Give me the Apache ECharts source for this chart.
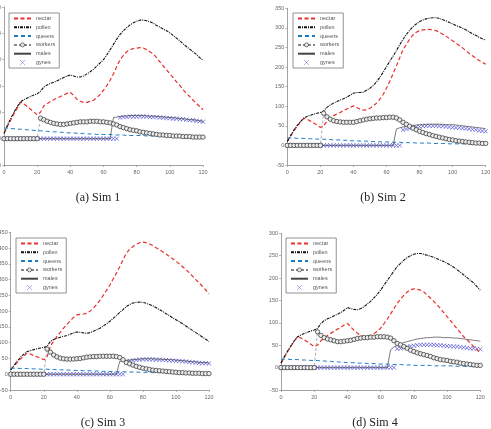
<!DOCTYPE html>
<html>
<head>
<meta charset="utf-8">
<script src="https://cdn.jsdelivr.net/npm/echarts@6.0.0/dist/echarts.min.js"></script>
<style>
  html, body { margin: 0; padding: 0; background: #fff; }
  #chart { width: 491px; height: 429px; }
</style>
</head>
<body>
<div id="chart"></div>
<script>
// days sampled every 2 days
const days = [0,2,4,6,8,10,12,14,16,18,20,22,24,26,28,30,32,34,36,38,40,42,44,46,48,50,52,54,56,58,
  60,62,64,66,68,70,72,74,76,78,80,82,84,86,88,90,92,94,96,98,100,102,104,106,108,110,112,114,116,118,120];
const seriesNames = ['nectar', 'pollen', 'queens', 'workers', 'males', 'gynes'];
const xTicks = { min: 0, max: 120, step: 20 };
const yMax = [250, 350, 450, 300];
const captions = ['(a) Sim 1', '(b) Sim 2', '(c) Sim 3', '(d) Sim 4'];

// Sim 1
const nectarA = [10,23,35,47,58,69,66,61,56,51, 45,50,62,66,71,74,77,80,83,86, 88,82,75,71,69,69,71,73,78,84,
  92,101,111,123,137,150,158,165,169,171, 172,173,172,169,165,161,154,146,138,131, 123,116,108,101,93,86,80,73,67,61, 55];
const pollenA = [10,25,38,50,61,70,74,77,80,83, 85,90,98,102,105,107,110,113,116,119, 121,119,117,117,119,123,127,132,138,144,
  150,159,169,179,189,198,205,211,216,220, 223,225,225,224,222,219,215,212,208,205, 201,196,191,186,180,175,170,165,160,154, 149];
const queensA = [20,20,19,19,18,18,17,17,16,16, 15,15,14,14,13,13,13,12,12,11, 11,11,10,10,10,9,9,9,8,8,
  8,8,8,7,7,7,7,6,6,6, 6,6,6,5,5,5,5,5,5,5, 4,4,4,4,4,4,3,3,3,3, 3];
const workersA = [0,0,0,0,0,0,0,0,0,0, 0,39,36,33,31,29,28,27,27,28, 29,30,31,32,32,32,33,33,33,32,
  32,31,30,28,26,23,21,19,17,16, 15,13,12,11,10,9,8,7,7,6, 6,5,5,5,4,4,4,3,3,3, 3];
const malesA = [0,0,0,0,0,0,0,0,0,0, 0,0,0,0,0,0,0,0,0,0, 0,0,0,0,0,0,0,0,0,0,
  0,0,0,40,41,42,43,43,44,44, 44,44,44,43,43,43,42,42,41,41, 40,40,39,38,38,37,36,36,35,34, 33];
const gynesA = [0,0,0,0,0,0,0,0,0,0, 0,0,0,0,0,0,0,0,0,0, 0,0,0,0,0,0,0,0,0,0,
  0,0,0,0,0,40,41,41,42,42, 42,42,42,42,41,41,41,40,40,39, 39,38,38,37,37,36,35,35,34,33, 32];

// Sim 2
const nectarB = [10,24,37,49,60,69,67,62,57,52, 46,50,62,70,76,80,84,89,93,97, 101,97,92,90,91,95,101,108,118,130,
  146,164,183,203,224,244,258,271,282,289, 293,295,296,296,295,293,289,284,279,273, 267,261,255,249,242,235,229,223,217,212, 207];
const pollenB = [10,25,39,51,61,70,74,77,80,82, 84,88,97,103,108,112,116,119,123,128, 133,135,135,136,141,146,153,162,174,187,
  201,215,228,242,257,271,283,294,303,310, 316,320,323,325,326,326,324,321,318,314, 310,306,303,299,295,290,285,281,276,272, 269];
const queensB = [19,19,19,18,18,18,17,17,17,16, 16,16,15,15,14,14,14,13,13,12, 12,12,11,11,11,10,10,10,9,9,
  9,8,8,8,8,7,7,7,7,6, 6,6,6,6,5,5,5,5,5,4, 4,4,4,4,4,3,3,3,3,3, 3];
const workersB = [0,0,0,0,0,0,0,0,0,0, 0,82,73,67,63,61,60,59,59,59, 59,61,63,65,67,68,69,70,70,71,
  71,72,72,70,65,59,54,49,44,40, 36,33,30,28,25,23,21,19,17,15, 14,12,11,10,9,8,7,6,6,5, 5];
const malesB = [0,0,0,0,0,0,0,0,0,0, 0,0,0,0,0,0,0,0,0,0, 0,0,0,0,0,0,0,0,0,0,
  0,0,0,42,45,47,49,50,51,52, 53,53,54,54,54,54,54,54,53,53, 53,52,51,50,49,48,47,46,45,44, 43];
const gynesB = [0,0,0,0,0,0,0,0,0,0, 0,0,0,0,0,0,0,0,0,0, 0,0,0,0,0,0,0,0,0,0,
  0,0,0,0,0,40,42,44,45,47, 48,49,50,50,50,50,49,49,48,47, 46,45,45,44,43,42,41,40,38,37, 36];

// Sim 3
const nectarC = [14,26,38,49,58,67,64,59,55,52, 46,55,89,105,120,133,146,158,169,180, 188,190,191,193,200,209,221,234,250,266,
  283,302,321,341,363,384,396,405,412,417, 419,417,413,408,401,395,388,381,373,366, 358,350,341,332,322,311,300,290,279,267, 255];
const pollenC = [14,28,42,54,64,72,75,78,81,83, 85,88,104,110,114,117,120,123,127,131, 134,133,131,130,132,136,141,146,153,160,
  168,177,186,196,205,215,221,226,228,229, 228,225,221,217,211,205,199,192,186,179, 173,167,160,153,146,139,132,125,118,111, 104];
const queensC = [19,19,19,18,18,18,17,17,17,16, 16,16,15,15,14,14,14,13,13,12, 12,12,11,11,11,10,10,10,9,9,
  9,8,8,8,8,7,7,7,7,6, 6,6,6,5,5,5,5,5,4,4, 4,4,4,4,3,3,3,3,3,2, 2];
const workersC = [0,0,0,0,0,0,0,0,0,0, 0,80,70,61,55,51,49,48,48,48, 49,50,52,54,55,56,56,57,57,57,
  57,57,56,53,46,37,33,29,25,22, 19,17,15,13,12,11,10,9,8,7, 6,5,5,4,4,3,3,3,2,2, 2];
const malesC = [0,0,0,0,0,0,0,0,0,0, 0,0,0,0,0,0,0,0,0,0, 0,0,0,0,0,0,0,0,0,0,
  0,0,0,41,43,44,45,46,47,48, 49,49,49,49,48,48,47,47,46,46, 45,44,43,42,41,40,39,38,37,37, 36];
const gynesC = [0,0,0,0,0,0,0,0,0,0, 0,0,0,0,0,0,0,0,0,0, 0,0,0,0,0,0,0,0,0,0,
  0,0,0,0,0,40,42,44,45,46, 47,47,47,47,46,46,45,45,44,43, 42,42,41,40,39,38,37,36,35,35, 34];

// Sim 4
const nectarD = [10,24,36,48,59,69,66,62,57,52, 47,50,60,66,72,77,81,86,90,95, 99,91,83,77,72,69,70,72,76,81,
  88,98,108,120,132,144,153,162,169,174, 176,175,173,169,162,155,148,140,132,123, 114,105,96,87,78,69,62,55,47,40, 32];
const pollenD = [10,24,37,49,60,69,73,76,79,82, 84,88,98,105,109,112,116,119,123,128, 134,132,130,129,132,136,142,148,156,164,
  173,184,195,205,216,226,233,240,246,250, 253,255,255,253,251,249,246,243,240,237, 233,229,224,219,213,207,201,195,189,181, 173];
const queensD = [19,19,19,18,18,18,17,17,17,16, 16,16,15,15,14,14,13,13,12,12, 11,11,11,10,10,10,9,9,9,8,
  8,8,8,7,7,7,7,6,6,6, 5,5,5,5,5,5,4,4,4,4, 4,4,3,3,3,3,3,3,2,2, 2];
const workersD = [0,0,0,0,0,0,0,0,0,0, 0,80,72,67,64,62,60,58,58,59, 60,61,63,65,66,67,67,68,68,69,
  69,69,68,66,60,54,51,47,43,39, 36,33,31,29,27,25,22,20,18,17, 16,14,13,12,10,9,8,7,6,5, 5];
const malesD = [0,0,0,0,0,0,0,0,0,0, 0,0,0,0,0,0,0,0,0,0, 0,0,0,0,0,0,0,0,0,0,
  0,0,0,40,46,49,53,56,58,60, 62,64,65,66,67,67,68,68,68,67, 67,67,66,66,65,64,63,62,61,60, 59];
const gynesD = [0,0,0,0,0,0,0,0,0,0, 0,0,0,0,0,0,0,0,0,0, 0,0,0,0,0,0,0,0,0,0,
  0,0,0,0,0,42,43,45,46,48, 49,50,51,51,51,51,51,50,50,49, 48,48,47,47,46,45,44,43,43,42, 41];

const sims = [
  [nectarA, pollenA, queensA, workersA, malesA, gynesA],
  [nectarB, pollenB, queensB, workersB, malesB, gynesB],
  [nectarC, pollenC, queensC, workersC, malesC, gynesC],
  [nectarD, pollenD, queensD, workersD, malesD, gynesD]
];

// layout of the four panels
const grids = [
  { left: 4, top: 7, width: 199, height: 158 },
  { left: 287.3, top: 8.3, width: 198.4, height: 156.7 },
  { left: 10.7, top: 232.3, width: 198.3, height: 157.7 },
  { left: 281, top: 233.3, width: 199.3, height: 156.7 }
];
const legendPos = [[9, 13], [293, 13], [16, 238], [286, 238]];
const captionPos = [[98, 198], [383, 198], [103, 423], [375, 423]];

const pairs = vals => days.map((d, i) => [d, vals[i]]);
const xMark = 'path://M0,0L10,10M10,0L0,10';
const axisGray = '#8a8a8a';
const hidden = { color: 'rgba(0,0,0,0)', borderColor: 'rgba(0,0,0,0)', borderWidth: 0 };

const chart = echarts.init(document.getElementById('chart'));

const option = {
  animation: false,
  backgroundColor: '#fff',
  grid: grids.map(g => Object.assign({ containLabel: false, outerBoundsMode: 'none' }, g)),
  xAxis: grids.map((g, i) => ({
    type: 'value', gridIndex: i,
    min: xTicks.min, max: xTicks.max, interval: xTicks.step,
    axisLine: { onZero: false, lineStyle: { color: axisGray, width: 0.8 } },
    axisTick: { length: 2, lineStyle: { color: axisGray, width: 0.6 } },
    axisLabel: { fontSize: 5.5, color: '#666', margin: 4, fontFamily: 'Liberation Sans' },
    splitLine: { show: false }
  })),
  yAxis: grids.map((g, i) => ({
    type: 'value', gridIndex: i,
    min: -50, max: yMax[i], interval: 50,
    axisLine: { show: true, onZero: false, lineStyle: { color: axisGray, width: 0.8 } },
    axisTick: { show: true, length: 2, lineStyle: { color: axisGray, width: 0.6 } },
    axisLabel: { fontSize: 5.5, color: '#666', margin: 3, fontFamily: 'Liberation Sans' },
    splitLine: { show: false }
  })),
  legend: legendPos.map(p => ({
    data: seriesNames.map(n => {
      if (n === 'workers') return { name: n, itemStyle: { borderWidth: 0.6 } };
      if (n === 'gynes') return { name: n, itemStyle: { borderWidth: 0.5 } };
      return { name: n, itemStyle: hidden };
    }),
    orient: 'vertical',
    left: p[0], top: p[1],
    itemWidth: 17, itemHeight: 5, itemGap: 2.8,
    padding: [2.5, 4, 2.5, 4],
    borderColor: '#777', borderWidth: 0.8, borderRadius: 0,
    backgroundColor: '#fff',
    selectedMode: false,
    textStyle: { fontSize: 5.5, color: '#555', fontFamily: 'Liberation Sans' }
  })),
  series: [],
  graphic: captionPos.map((p, i) => ({
    type: 'text', x: p[0], y: p[1],
    style: {
      text: captions[i], fill: '#222',
      font: '12px "Liberation Serif"',
      textAlign: 'center', textVerticalAlign: 'middle'
    }
  }))
};

sims.forEach((s, i) => {
  const base = { xAxisIndex: i, yAxisIndex: i };
  option.series.push(
    Object.assign({}, base, {
      name: 'nectar', type: 'line', data: pairs(s[0]), symbol: 'none',
      lineStyle: { color: '#e8302c', width: 1.2, type: [4, 2.5] },
      itemStyle: { color: '#e8302c' }
    }),
    Object.assign({}, base, {
      name: 'pollen', type: 'line', data: pairs(s[1]), symbol: 'none',
      lineStyle: { color: '#111', width: 1.1, type: [3, 1, 1, 1] },
      itemStyle: { color: '#111' }
    }),
    Object.assign({}, base, {
      name: 'queens', type: 'line', data: pairs(s[2]), symbol: 'none',
      lineStyle: { color: '#1b7cc4', width: 1, type: [4, 3] },
      itemStyle: { color: '#1b7cc4' }
    }),
    Object.assign({}, base, {
      name: 'workers', type: 'line', data: pairs(s[3]),
      symbol: 'circle', symbolSize: 4.4, showAllSymbol: true,
      lineStyle: { color: '#888', width: 0.7, type: [3, 2] },
      itemStyle: { color: '#ececec', borderColor: '#2a2a2a', borderWidth: 0.7 }
    }),
    Object.assign({}, base, {
      name: 'males', type: 'line', data: pairs(s[4]), symbol: 'none',
      lineStyle: { color: '#444', width: 0.7 },
      itemStyle: { color: '#444' }
    }),
    Object.assign({}, base, {
      name: 'gynes', type: 'scatter', data: pairs(s[5]),
      symbol: xMark, symbolSize: 4.2, symbolKeepAspect: true,
      itemStyle: { color: 'rgba(0,0,0,0)', borderColor: '#4646d6', borderWidth: 0.8, opacity: 0.85 }
    })
  );
});

chart.setOption(option);
</script>
</body>
</html>
